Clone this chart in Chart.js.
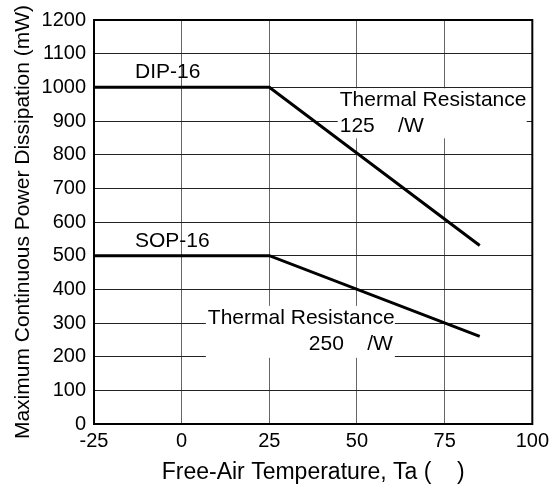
<!DOCTYPE html>
<html>
<head>
<meta charset="utf-8">
<script src="https://cdn.jsdelivr.net/npm/chart.js@4.4.0/dist/chart.umd.min.js"></script>
<style>
  html, body { margin: 0; padding: 0; background: #fff; }
</style>
</head>
<body>
<canvas id="chart" width="554" height="488"></canvas>
<script>
// derating curves, temperature in degrees C, power in mW
const temps = [-25, 25, 85];
const dip16 = [1000, 1000, 530];
const sop16 = [500, 500, 260];
const xTicks = [-25, 0, 25, 50, 75, 100];
const yTicks = [0, 100, 200, 300, 400, 500, 600, 700, 800, 900, 1000, 1100, 1200];

const FONT = '"Liberation Sans", Arial, sans-serif';

let toPoints = function(values) {
  return temps.map((t, i) => ({ x: t, y: values[i] }));
};

// package names and the thermal resistance notes
let labels = [
  { text: 'DIP-16', x: -13.3, y: 1000, dy: -9 },
  { text: 'SOP-16', x: -13.3, y: 500, dy: -9 }
];
let notes = [
  { x: 44.5, y: 997, w: 189, h: 50, lines: ['Thermal Resistance', '125    /W'], align: 'left' },
  { x: 6.9, y: 351, w: 189, h: 52, lines: ['Thermal Resistance', '250    /W'], align: 'right' }
];

let annotate = {
  id: 'annotate',
  beforeDatasetsDraw(chart) {
    const { ctx, scales: { x, y } } = chart;
    ctx.save();
    ctx.font = '21px ' + FONT;
    ctx.fillStyle = '#000';
    ctx.textBaseline = 'alphabetic';
    notes.forEach(n => {
      const left = x.getPixelForValue(n.x);
      const top = y.getPixelForValue(n.y);
      ctx.fillStyle = '#fff';
      ctx.fillRect(left, top, n.w, n.h);
      ctx.fillStyle = '#000';
      ctx.textAlign = 'left';
      ctx.fillText(n.lines[0], left + 2, top + 18);
      ctx.textAlign = n.align;
      ctx.fillText(n.lines[1], n.align === 'left' ? left + 2 : left + n.w - 2, top + 44);
    });
    labels.forEach(l => {
      ctx.textAlign = 'left';
      ctx.fillText(l.text, x.getPixelForValue(l.x), y.getPixelForValue(l.y) + l.dy);
    });
    ctx.restore();
  },
  afterDraw(chart) {
    const { ctx, chartArea: a } = chart;
    ctx.save();
    ctx.strokeStyle = '#000';
    ctx.lineWidth = 2;
    ctx.strokeRect(a.left, a.top, a.right - a.left, a.bottom - a.top);
    ctx.restore();
  }
};

new Chart(document.getElementById('chart'), {
  type: 'line',
  data: {
    datasets: [
      { label: 'DIP-16', data: toPoints(dip16), borderColor: '#000', borderWidth: 3, pointRadius: 0, tension: 0 },
      { label: 'SOP-16', data: toPoints(sop16), borderColor: '#000', borderWidth: 3, pointRadius: 0, tension: 0 }
    ]
  },
  options: {
    responsive: false,
    animation: false,
    layout: { padding: { left: 0, right: 21, top: 17, bottom: 0 } },
    plugins: { legend: { display: false }, tooltip: { enabled: false } },
    scales: {
      x: {
        type: 'linear',
        min: -25,
        max: 100,
        afterBuildTicks: axis => { axis.ticks = xTicks.map(v => ({ value: v })); },
        afterFit: axis => { axis.height = 64; },
        grid: { color: '#666', lineWidth: 1, drawTicks: false },
        border: { display: false },
        ticks: { color: '#000', font: { family: FONT, size: 20 }, padding: 5, maxRotation: 0, callback: v => String(v) },
        title: {
          display: true,
          text: 'Free-Air Temperature, Ta (    )',
          color: '#000',
          font: { family: FONT, size: 23 },
          padding: { top: 0, bottom: 2 }
        }
      },
      y: {
        min: 0,
        max: 1200,
        afterBuildTicks: axis => { axis.ticks = yTicks.map(v => ({ value: v })); },
        afterFit: axis => { axis.width = 94; },
        grid: { color: '#222', lineWidth: 1, drawTicks: false },
        border: { display: false },
        ticks: { color: '#000', font: { family: FONT, size: 20 }, padding: 8, callback: v => String(v) },
        title: {
          display: true,
          text: 'Maximum Continuous Power Dissipation (mW)',
          color: '#000',
          font: { family: FONT, size: 21 },
          padding: { top: 11, bottom: 0 }
        }
      }
    }
  },
  plugins: [annotate]
});
</script>
</body>
</html>
